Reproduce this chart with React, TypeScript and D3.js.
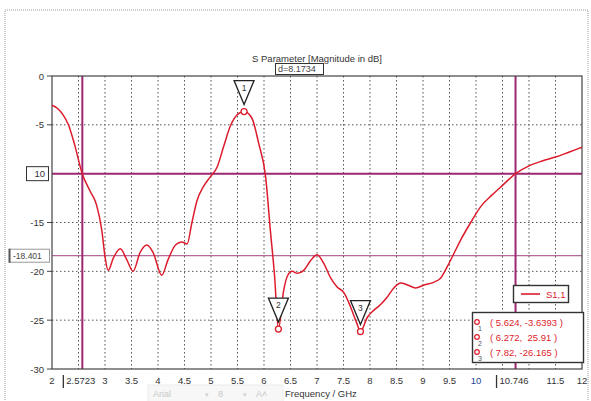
import { line, curveMonotoneX, range, scaleLinear } from "d3";

// S11 curve
const freq = [
  2.0, 2.1, 2.2, 2.31, 2.42, 2.57, 2.72, 2.84, 2.94, 3.0, 3.06, 3.16, 3.29, 3.41, 3.53, 3.66,
  3.79, 3.91, 4.07, 4.19, 4.33, 4.45, 4.55, 4.64, 4.74, 4.86, 4.99, 5.11, 5.24, 5.36, 5.49,
  5.624, 5.77, 5.9, 6.03, 6.12, 6.2, 6.272, 6.37, 6.44, 6.53, 6.63, 6.75, 6.88, 7.0, 7.13,
  7.26, 7.38, 7.51, 7.63, 7.75, 7.82, 7.95, 8.07, 8.2, 8.33, 8.45, 8.58, 8.71, 8.86, 9.02,
  9.21, 9.33, 9.46, 9.59, 9.71, 9.9, 10.1, 10.3, 10.5, 10.746, 11.0, 11.25, 11.5, 11.75, 12.0,
];
const s11 = [
  -3.0, -3.3, -3.9, -5.0, -6.9, -10.0, -11.8, -13.2, -15.8, -18.5, -19.9, -18.6, -17.7, -18.8,
  -20.0, -18.1, -17.3, -18.1, -20.4, -18.8, -17.3, -17.0, -17.2, -15.0, -12.7, -11.3, -10.3,
  -9.4, -7.2, -5.2, -4.0, -3.64, -4.3, -6.9, -10.3, -15.8, -20.5, -25.91, -22.0, -20.5, -20.0,
  -20.2, -19.9, -18.9, -18.3, -19.2, -20.7, -21.6, -22.2, -23.6, -25.3, -26.17, -24.7, -24.0,
  -23.4, -22.6, -21.7, -21.2, -21.4, -21.7, -21.4, -21.1, -20.7, -19.5, -18.1, -16.8, -15.0,
  -13.3, -12.2, -11.2, -10.0, -9.2, -8.7, -8.3, -7.8, -7.3,
];

const markerFreq = [5.624, 6.272, 7.82];
const markerVal = [-3.6393, -25.91, -26.165];
const markerText = ["( 5.624, -3.6393 )", "( 6.272,  25.91 )", "( 7.82, -26.165 )"];

const yTicks = [0, -5, -15, -20, -25, -30];
const xTicks = range(2, 12.01, 0.5);
const hiddenX = [2.5, 10.5, 11]; // covered by the marker labels
const vMarkers = [2.5723, 10.746];
const hMarker = -10;
const hMarker2 = -18.401;

const RED = "#dc1c2c";
const MAG = "#9c2872";
const FONT = "'Liberation Sans', Arial, sans-serif";

export default function App() {
  const left = 52, right = 582, top = 76, bottom = 369;
  const x = scaleLinear().domain([2, 12]).range([left, right]);
  const y = scaleLinear().domain([-30, 0]).range([bottom, top]);
  const pts = freq.map((f, i) => [f, s11[i]] as [number, number]);
  const path = line<[number, number]>()
    .x((d) => x(d[0]))
    .y((d) => y(d[1]))
    .curve(curveMonotoneX)(pts) || "";

  return (
    <svg width={591} height={401} style={{ position: "absolute", left: 0, top: 0, background: "#fff" }} fontFamily={FONT}>
      <rect x={0} y={0} width={591} height={401} fill="#fff" />
      {/* dotted outer frame */}
      <path d="M5,402 V10 H588 V402" fill="none" stroke="#9a9a9a" strokeDasharray="1,1" />

      {/* title */}
      <text x={317} y={62} textAnchor="middle" fontSize={9.5} fill="#333">
        S Parameter [Magnitude in dB]
      </text>
      <rect x={275.5} y={63.5} width={48} height={11} fill="#fff" stroke="#333" />
      <text x={278} y={72} fontSize={9} fill="#444">d=8.1734</text>

      {/* grid */}
      {xTicks.filter((t) => t > 2 && t < 12).map((t) => (
        <line key={"gx" + t} x1={x(t)} x2={x(t)} y1={top} y2={bottom} stroke="#555" strokeDasharray="1.5,2.5" />
      ))}
      {[-5, -15, -20, -25].map((t) => (
        <line key={"gy" + t} x1={left} x2={right} y1={y(t)} y2={y(t)} stroke="#555" strokeDasharray="1.5,2.5" />
      ))}

      {/* marker lines */}
      <line x1={left} x2={right} y1={y(hMarker2)} y2={y(hMarker2)} stroke="#b46a9a" strokeWidth={1.3} />
      <line x1={left} x2={right} y1={y(hMarker)} y2={y(hMarker)} stroke={MAG} strokeWidth={2} />
      {vMarkers.map((m) => (
        <line key={"vm" + m} x1={x(m)} x2={x(m)} y1={top} y2={bottom} stroke={MAG} strokeWidth={2} />
      ))}

      {/* plot frame */}
      <rect x={left} y={top} width={right - left} height={bottom - top} fill="none" stroke="#444" strokeWidth={1.2} />

      {/* curve */}
      <path d={path} fill="none" stroke={RED} strokeWidth={1.5} />

      {/* markers */}
      {markerFreq.map((f, i) => {
        const cx = x(f), cy = y(markerVal[i]);
        const tip = cy - 7, tt = tip - 24;
        return (
          <g key={"mk" + i}>
            <circle cx={cx} cy={cy} r={3} fill="#fff" stroke={RED} strokeWidth={1.3} />
            <path d={`M${cx - 10},${tt} H${cx + 10} L${cx},${tip} Z`} fill="#fff" stroke="#222" strokeWidth={1.3} />
            <text x={cx} y={tt + 10} textAnchor="middle" fontSize={8.5} fill="#333">{i + 1}</text>
          </g>
        );
      })}

      {/* y axis */}
      {yTicks.map((t) => (
        <g key={"yt" + t}>
          <line x1={left - 5} x2={left} y1={y(t)} y2={y(t)} stroke="#444" />
          <text x={left - 8} y={y(t) + 3.5} textAnchor="end" fontSize={9.5} fill="#333">{String(t)}</text>
        </g>
      ))}
      <rect x={26.5} y={y(hMarker) - 7} width={22} height={14} fill="#fff" stroke="#333" />
      <text x={45} y={y(hMarker) + 3.5} textAnchor="end" fontSize={9.5} fill="#333">10</text>
      <rect x={9.5} y={y(hMarker2) - 6.5} width={40} height={13} fill="#fff" stroke="#999" />
      <line x1={9.5} x2={9.5} y1={y(hMarker2) - 7} y2={y(hMarker2) + 7} stroke="#555" strokeWidth={2} />
      <text x={13} y={y(hMarker2) + 3} fontSize={8.5} fill="#444">-18.401</text>

      {/* x axis */}
      {xTicks.filter((t) => !hiddenX.includes(t)).map((t) => (
        <text key={"xt" + t} x={x(t)} y={384} textAnchor="middle" fontSize={9.5} fill={t === 10 ? "#2a3f9a" : "#333"}>
          {String(t)}
        </text>
      ))}
      {vMarkers.map((m) => (
        <g key={"xm" + m}>
          <line x1={x(m) - 19} x2={x(m) - 19} y1={375} y2={388} stroke="#333" strokeWidth={1.3} />
          <text x={x(m) - 16} y={384} fontSize={9.5} fill="#333">{String(m)}</text>
        </g>
      ))}

      {/* faded font toolbar overlay */}
      <rect x={148} y={385} width={135} height={17} fill="#f7f7f7" stroke="#ececec" />
      <text x={153} y={397} fontSize={9} fill="#c8c8c8">Arial</text>
      <text x={205} y={397} fontSize={7} fill="#cfcfcf">▾</text>
      <text x={218} y={397} fontSize={9} fill="#c8c8c8">8</text>
      <text x={243} y={397} fontSize={7} fill="#cfcfcf">▾</text>
      <text x={256} y={397} fontSize={9} fill="#c8c8c8">A˄</text>
      <text x={285} y={397} fontSize={9.5} fill="#333">Frequency / GHz</text>

      {/* legend */}
      <rect x={513.5} y={285.5} width={55} height={17} fill="#fff" stroke="#333" strokeWidth={1.4} />
      <line x1={521} x2={540} y1={294} y2={294} stroke={RED} strokeWidth={1.6} />
      <text x={546} y={297.5} fontSize={9.5} fill={RED}>S1,1</text>

      <rect x={472.5} y={312.5} width={111} height={50} fill="#fff" stroke="#333" strokeWidth={1.4} />
      {markerText.map((s, i) => (
        <g key={"mt" + i}>
          <circle cx={477} cy={322 + i * 15} r={2.3} fill="none" stroke={RED} strokeWidth={1.2} />
          <text x={478} y={331 + i * 15} fontSize={7} fill="#555">{i + 1}</text>
          <text x={490} y={326 + i * 15} fontSize={9.5} fill={RED} style={{ whiteSpace: "pre" }}>{s}</text>
        </g>
      ))}
    </svg>
  );
}
